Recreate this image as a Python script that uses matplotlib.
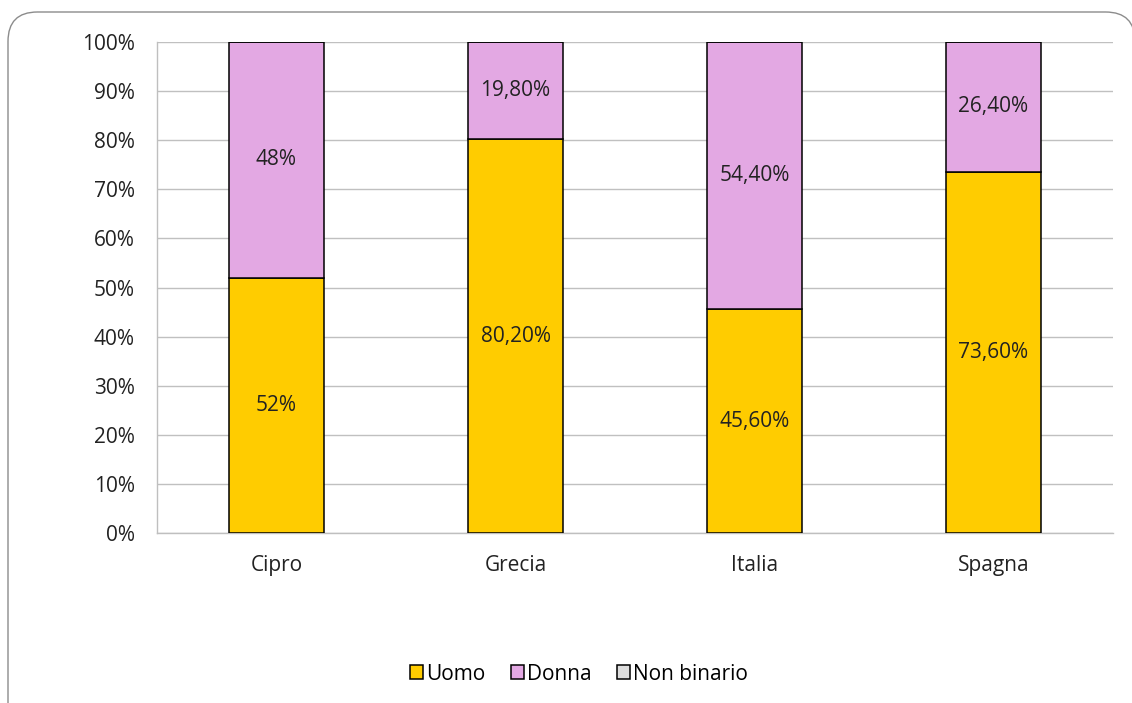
import numpy as np
import matplotlib
matplotlib.use("Agg")
import matplotlib.pyplot as plt
from matplotlib.patches import FancyBboxPatch
from matplotlib.ticker import FuncFormatter

paesi = ["Cipro", "Grecia", "Italia", "Spagna"]
uomo = [52.0, 80.2, 45.6, 73.6]
donna = [48.0, 19.8, 54.4, 26.4]
non_binario = [0.0, 0.0, 0.0, 0.0]
etichette_uomo = ["52%", "80,20%", "45,60%", "73,60%"]
etichette_donna = ["48%", "19,80%", "54,40%", "26,40%"]

GIALLO, ROSA, GRIGIO = "#FFCC00", "#E3A8E3", "#DDDDDD"
FS = 15
plt.rcParams["font.family"] = ["Open Sans", "DejaVu Sans"]

fig = plt.figure(figsize=(11.32, 7.03), dpi=100)
# rounded chart frame, running off the right and bottom edges
frame = FancyBboxPatch((8 / 1132, -0.1), 1135 / 1132 - 8 / 1132, 1.1 - 12 / 703,
                       boxstyle="round,pad=0,rounding_size=0.026",
                       transform=fig.transFigure, fc="white", ec="#8C8C8C",
                       lw=1.0, mutation_aspect=1132 / 703, zorder=-5)
fig.patches.append(frame)

ax = fig.add_axes([157 / 1132, 1 - 533 / 703, (1113 - 157) / 1132, (533 - 42) / 703])
ax.patch.set_alpha(0)
x = np.arange(len(paesi))
w = 0.4
b1 = ax.bar(x, uomo, w, color=GIALLO, edgecolor="black", lw=1.1, zorder=3, label="Uomo")
b2 = ax.bar(x, donna, w, bottom=uomo, color=ROSA, edgecolor="black", lw=1.1, zorder=3, label="Donna")
bott = np.array(uomo) + np.array(donna)
b3 = ax.bar(x, non_binario, w, bottom=bott, color=GRIGIO, edgecolor="black", lw=1.1, zorder=3, label="Non binario")

for i in range(len(paesi)):
    ax.text(x[i], uomo[i] / 2, etichette_uomo[i], ha="center", va="center", fontsize=FS, color="#222222", zorder=4)
    ax.text(x[i], uomo[i] + donna[i] / 2, etichette_donna[i], ha="center", va="center", fontsize=FS, color="#222222", zorder=4)

ax.set_xlim(-0.5, len(paesi) - 0.5)
ax.set_ylim(0, 100)
ax.set_yticks(np.arange(0, 101, 10))
ax.yaxis.set_major_formatter(FuncFormatter(lambda v, p: f"{v:.0f}%"))
ax.set_xticks(x)
ax.set_xticklabels(paesi)
ax.tick_params(axis="both", length=0, labelsize=FS, colors="#222222")
ax.tick_params(axis="y", pad=16)
ax.tick_params(axis="x", pad=16)
ax.grid(axis="y", color="#C0C0C0", lw=1.0, zorder=0)
for s in ["top", "right"]:
    ax.spines[s].set_visible(False)
for s in ["left", "bottom"]:
    ax.spines[s].set_color("#BFBFBF")
    ax.spines[s].set_linewidth(1.0)

fig.legend(handles=[b1, b2, b3], labels=["Uomo", "Donna", "Non binario"],
           loc="center", bbox_to_anchor=(579 / 1132, 1 - 674 / 703), ncol=3,
           frameon=False, fontsize=FS, handlelength=0.65, handleheight=0.65,
           handletextpad=0.15, columnspacing=1.2)

fig.savefig("out.png", dpi=100, facecolor="white")
